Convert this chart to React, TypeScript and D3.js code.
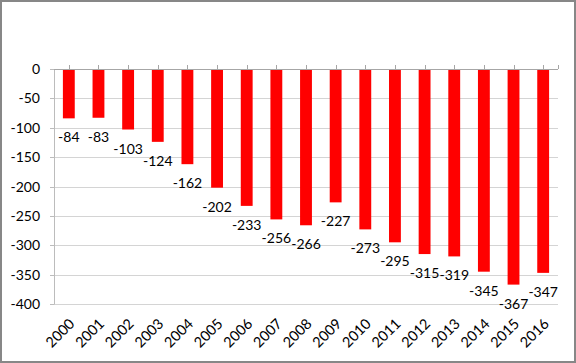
import React, { useEffect, useRef } from 'react';
import * as d3 from 'd3';

const years = ['2000', '2001', '2002', '2003', '2004', '2005', '2006', '2007', '2008',
  '2009', '2010', '2011', '2012', '2013', '2014', '2015', '2016'];
const values = [-84, -83, -103, -124, -162, -202, -233, -256, -266, -227, -273, -295,
  -315, -319, -345, -367, -347];
const yTicks = [0, -50, -100, -150, -200, -250, -300, -350, -400];

const W = 576;
const H = 363;

export default function App() {
  const ref = useRef<SVGSVGElement>(null);

  useEffect(() => {
    const svg = d3.select(ref.current);
    svg.selectAll('*').remove();

    const left = 54, right = 558, top = 69, bottom = 304;
    const font = 'Lato, Calibri, sans-serif';

    const x = d3.scaleBand<string>().domain(years).range([left, right]).padding(0);
    const y = d3.scaleLinear().domain([-400, 0]).range([bottom, top]);
    const barW = x.bandwidth() / 2.5;

    svg.append('rect')
      .attr('x', 1).attr('y', 1)
      .attr('width', W - 2).attr('height', H - 2)
      .attr('fill', '#fff')
      .attr('stroke', '#878787')
      .attr('stroke-width', 2);

    // gridlines
    svg.append('g')
      .selectAll('line')
      .data(yTicks.filter(t => t !== 0))
      .enter().append('line')
      .attr('x1', left).attr('x2', right)
      .attr('y1', d => Math.round(y(d)) + 0.5)
      .attr('y2', d => Math.round(y(d)) + 0.5)
      .attr('stroke', '#d4d4d4');

    // y axis
    const yAxis = svg.append('g');
    yAxis.append('line')
      .attr('x1', left + 0.5).attr('x2', left + 0.5)
      .attr('y1', top).attr('y2', bottom + 0.5)
      .attr('stroke', '#bcbcbc');
    yAxis.selectAll('line.tick')
      .data(yTicks)
      .enter().append('line')
      .attr('class', 'tick')
      .attr('x1', left - 4).attr('x2', left)
      .attr('y1', d => Math.round(y(d)) + 0.5)
      .attr('y2', d => Math.round(y(d)) + 0.5)
      .attr('stroke', '#bcbcbc');
    yAxis.selectAll('text')
      .data(yTicks)
      .enter().append('text')
      .attr('x', 40)
      .attr('y', d => y(d))
      .attr('dy', '0.36em')
      .attr('text-anchor', 'end')
      .attr('font-family', font)
      .attr('font-size', 14)
      .attr('fill', '#000')
      .text(d => String(d));

    // bars
    svg.append('g')
      .selectAll('rect')
      .data(values)
      .enter().append('rect')
      .attr('x', (d, i) => x(years[i])! + x.bandwidth() / 2 - barW / 2)
      .attr('y', y(0))
      .attr('width', barW)
      .attr('height', d => y(d) - y(0))
      .attr('fill', '#ff0000');

    // zero axis with tick marks
    const xAxis = svg.append('g');
    xAxis.append('line')
      .attr('x1', left).attr('x2', right)
      .attr('y1', Math.round(y(0)) + 0.5).attr('y2', Math.round(y(0)) + 0.5)
      .attr('stroke', '#a6a6a6');
    const tickXs = years.map(yr => x(yr)! + x.bandwidth() / 2).concat([right]);
    xAxis.selectAll('line.tick')
      .data(tickXs)
      .enter().append('line')
      .attr('class', 'tick')
      .attr('x1', d => Math.round(d) + 0.5).attr('x2', d => Math.round(d) + 0.5)
      .attr('y1', y(0) - 4).attr('y2', y(0))
      .attr('stroke', '#a6a6a6');

    // value labels
    svg.append('g')
      .selectAll('text')
      .data(values)
      .enter().append('text')
      .attr('x', (d, i) => x(years[i])! + x.bandwidth() / 2)
      .attr('y', d => y(d) + 24)
      .attr('text-anchor', 'middle')
      .attr('font-family', font)
      .attr('font-size', 14)
      .attr('fill', '#000')
      .text(d => String(d));

    // category labels
    svg.append('g')
      .selectAll('text')
      .data(years)
      .enter().append('text')
      .attr('transform', d => `translate(${x(d)! + x.bandwidth() / 2 + 3},${bottom + 17}) rotate(-45)`)
      .attr('dy', '0.36em')
      .attr('text-anchor', 'end')
      .attr('font-family', font)
      .attr('font-size', 14.5)
      .attr('fill', '#000')
      .text(d => d);
  }, []);

  return (
    <svg ref={ref} width={W} height={H}
      style={{ position: 'absolute', left: 0, top: 0, background: '#fff' }} />
  );
}
